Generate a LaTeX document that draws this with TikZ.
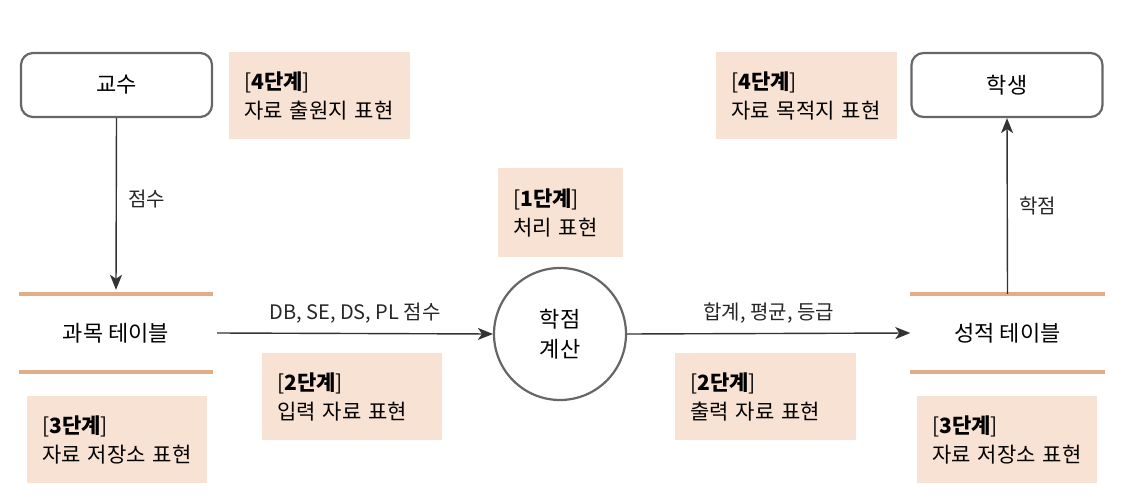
\documentclass[tikz,border=0pt]{standalone}
\usepackage{fontspec}
\setmainfont{Noto Sans CJK KR}
\usetikzlibrary{arrows.meta,positioning}
\definecolor{peach}{RGB}{248,226,211}
\definecolor{tan}{RGB}{226,172,132}
\definecolor{boxgray}{RGB}{102,102,102}

\tikzset{
	entity/.style={draw=boxgray, line width=2.2pt, rounded corners=12pt, minimum width=191pt, minimum height=64pt, inner sep=0pt, font=\fontsize{22}{26}\selectfont},
	store/.style={minimum width=194pt, minimum height=78pt, inner sep=0pt, font=\fontsize{22}{26}\selectfont},
	storeline/.style={draw=tan, line width=4pt},
	process/.style={circle, draw=boxgray, line width=2.2pt, minimum size=132pt, inner sep=0pt, align=center, font=\fontsize{22}{30}\selectfont},
	stage/.style={fill=peach, anchor=north west, align=left, inner xsep=15pt, inner ysep=0pt, font=\fontsize{21}{29}\selectfont},
	flow/.style={draw=black!80, line width=1.4pt, -{Stealth[length=15pt,width=12pt,inset=4pt]}},
	flowlabel/.style={font=\fontsize{20}{24}\selectfont, text=black!85}
}

\begin{document}
\begin{tikzpicture}[x=1pt,y=1pt,yscale=-1]
	\useasboundingbox (0,0) rectangle (1140,500);
	
	%Shape: entities
	\node [entity] (prof) at (116.5,85) {교수};
	\node [entity] (stud) at (1007,85) {학생};
	
	%Shape: data stores
	\node [store] (subj) at (116,333) {과목 테이블};
	\draw [storeline] (subj.north west) -- (subj.north east);
	\draw [storeline] (subj.south west) -- (subj.south east);
	\node [store] (grade) at (1007.5,333) {성적 테이블};
	\draw [storeline] (grade.north west) -- (grade.north east);
	\draw [storeline] (grade.south west) -- (grade.south east);
	
	%Shape: process
	\node [process] (calc) at (560,334) {학점\\계산};
	
	%Straight Lines: flows
	\draw [flow] (prof.south) -- node [flowlabel, right=8pt, pos=0.47] {점수} ([yshift=-4pt]subj.north);
	\draw [flow] ([xshift=4pt]subj.east) -- node [flowlabel, above=6pt] {DB, SE, DS, PL 점수} (calc.west);
	\draw [flow] (calc.east) -- node [flowlabel, above=6pt] {합계, 평균, 등급} (grade.west);
	\draw [flow] (grade.north) -- node [flowlabel, right=8pt] {학점} (stud.south);
	
	% Text Node: stages
	\node [stage, minimum height=87pt, text width=151pt] (st4a) at (229,52) {[\textbf{4단계}]\\자료 출원지 표현};
	\node [stage, minimum height=87pt, text width=151pt] (st4b) at (716,52) {[\textbf{4단계}]\\자료 목적지 표현};
	\node [stage, minimum height=89pt, text width=95pt] (st1) at (498,168) {[\textbf{1단계}]\\처리 표현};
	\node [stage, minimum height=87pt, text width=150pt] (st2a) at (262,353) {[\textbf{2단계}]\\입력 자료 표현};
	\node [stage, minimum height=87pt, text width=151pt] (st2b) at (675,353) {[\textbf{2단계}]\\출력 자료 표현};
	\node [stage, minimum height=87pt, text width=150pt] (st3a) at (27,396) {[\textbf{3단계}]\\자료 저장소 표현};
	\node [stage, minimum height=87pt, text width=150pt] (st3b) at (917,396) {[\textbf{3단계}]\\자료 저장소 표현};
	
\end{tikzpicture}
\end{document}
